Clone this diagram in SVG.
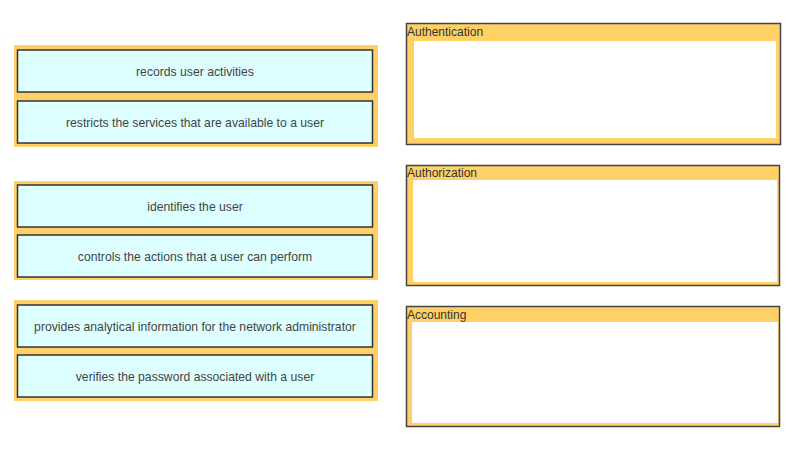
<svg xmlns="http://www.w3.org/2000/svg" width="805" height="449" viewBox="0 0 805 449">
<style>
.panel{fill:#FFD066;}
.item{fill:#DDFFFF;stroke:#333;stroke-width:1.5;}
.itxt{font-family:"Liberation Sans",Arial,sans-serif;font-size:12.2px;fill:#444;text-anchor:middle;}
.zone{fill:#FFD066;stroke:#444;stroke-width:1.5;}
.inner{fill:#fff;}
.ztxt{font-family:"Liberation Sans",Arial,sans-serif;font-size:12px;fill:#333;}
</style>
<rect width="805" height="449" fill="#fff"/>
<g id="group1">
<rect class="panel" x="14" y="45" width="364" height="102"/>
<g id="n-records"><rect class="item" x="17.5" y="50" width="355" height="42"/><text class="itxt" x="195" y="76">records user activities</text></g>
<g id="n-restricts"><rect class="item" x="17.5" y="101" width="355" height="42"/><text class="itxt" x="195" y="127">restricts the services that are available to a user</text></g>
</g>
<g id="group2">
<rect class="panel" x="14" y="181" width="364" height="99"/>
<g id="n-identifies"><rect class="item" x="17.5" y="185" width="355" height="42"/><text class="itxt" x="195" y="211">identifies the user</text></g>
<g id="n-controls"><rect class="item" x="17.5" y="235" width="355" height="42"/><text class="itxt" x="195" y="261">controls the actions that a user can perform</text></g>
</g>
<g id="group3">
<rect class="panel" x="14" y="300" width="364" height="101"/>
<g id="n-provides"><rect class="item" x="17.5" y="305" width="355" height="42"/><text class="itxt" x="195" y="331">provides analytical information for the network administrator</text></g>
<g id="n-verifies"><rect class="item" x="17.5" y="355" width="355" height="42"/><text class="itxt" x="195" y="381">verifies the password associated with a user</text></g>
</g>
<g id="z-authentication">
<rect class="zone" x="406.5" y="23.5" width="374" height="121"/>
<rect class="inner" x="414" y="41" width="362" height="97"/>
<text class="ztxt" x="407" y="36">Authentication</text>
</g>
<g id="z-authorization">
<rect class="zone" x="406.5" y="165.5" width="373" height="120"/>
<rect class="inner" x="413" y="180" width="364" height="102"/>
<text class="ztxt" x="407" y="177">Authorization</text>
</g>
<g id="z-accounting">
<rect class="zone" x="406.5" y="306.5" width="373" height="120"/>
<rect class="inner" x="412" y="322" width="366" height="101"/>
<text class="ztxt" x="407" y="319">Accounting</text>
</g>
<g id="connectors"></g>
</svg>
